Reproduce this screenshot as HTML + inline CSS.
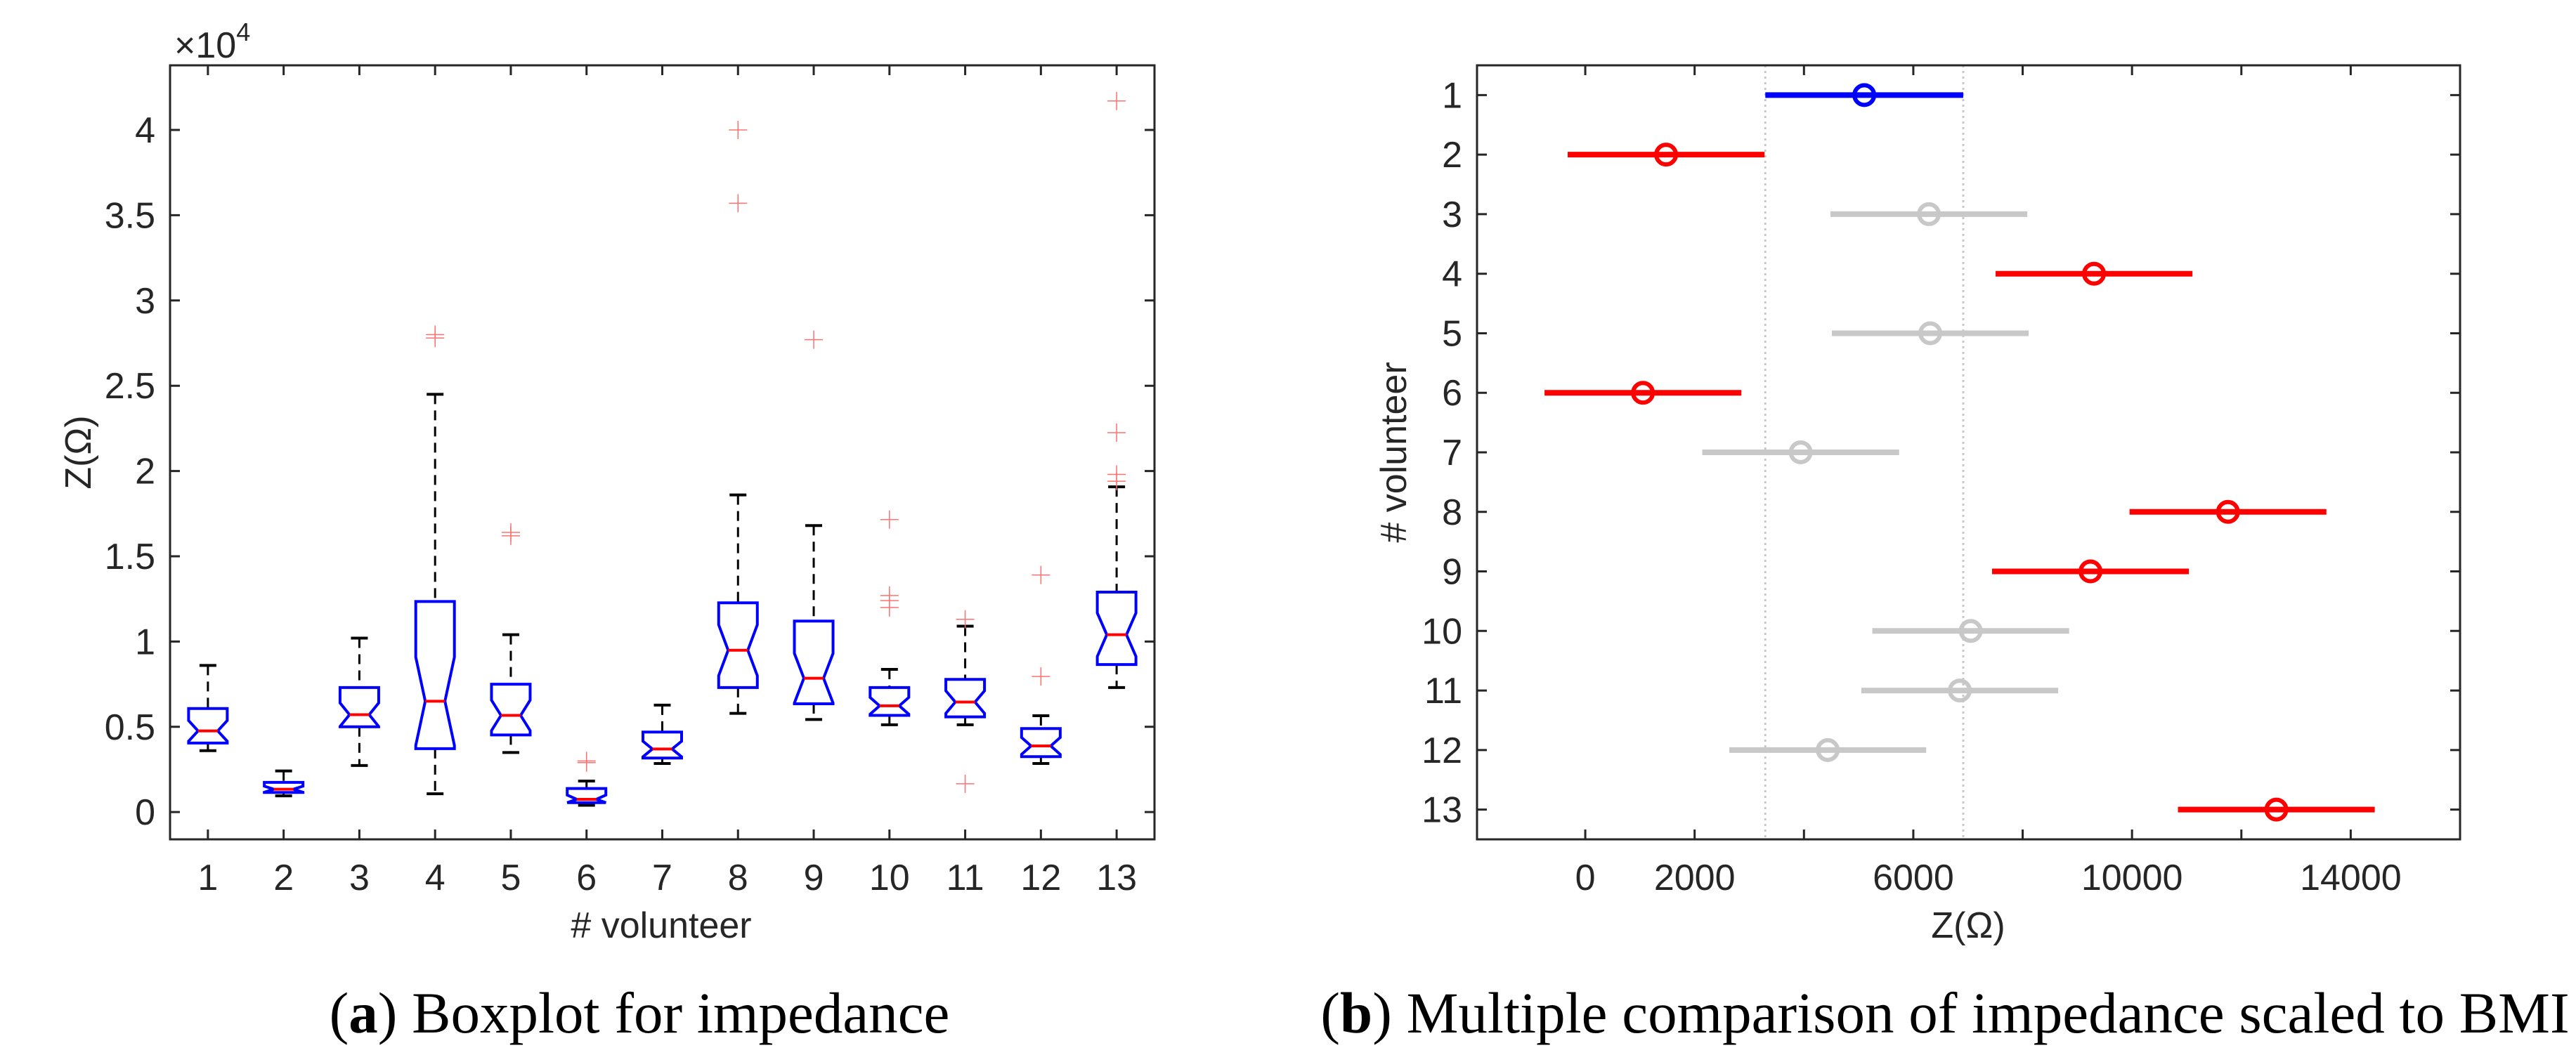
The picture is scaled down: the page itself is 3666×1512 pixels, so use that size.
<!DOCTYPE html>
<html><head><meta charset="utf-8"><style>
html,body{margin:0;padding:0;background:#fff;width:3666px;height:1512px;overflow:hidden}
svg text{font-family:"Liberation Sans",sans-serif;fill:#262626}
.cap{font-family:"Liberation Serif",serif;fill:#000}
</style></head><body>
<svg id="fig" width="3666" height="1512" viewBox="0 0 3666 1512">
<g id="left"></g>
<g id="right"></g>
<text class="cap" x="910" y="1470" font-size="83" text-anchor="middle">(<tspan font-weight="bold">a</tspan>) Boxplot for impedance</text>
<text class="cap" x="2768" y="1470" font-size="83" text-anchor="middle">(<tspan font-weight="bold">b</tspan>) Multiple comparison of impedance scaled to BMI</text>
</svg>
<script>
// ---- Boxplot data (units of 1e4 ohm) ----
const volunteers = [1,2,3,4,5,6,7,8,9,10,11,12,13];
const whiskerHigh = [0.86,0.241,1.02,2.45,1.04,0.182,0.627,1.86,1.68,0.837,1.09,0.565,1.907];
const q3Values   = [0.607,0.174,0.73,1.235,0.75,0.138,0.469,1.227,1.12,0.73,0.778,0.49,1.29];
const medians    = [0.476,0.134,0.571,0.65,0.567,0.075,0.37,0.949,0.785,0.623,0.645,0.388,1.04];
const q1Values   = [0.405,0.115,0.50,0.372,0.452,0.055,0.317,0.73,0.635,0.567,0.558,0.325,0.865];
const whiskerLow = [0.36,0.095,0.273,0.107,0.349,0.04,0.285,0.579,0.543,0.512,0.512,0.285,0.73];
const outliers = [[],[],[],[2.78,2.80],[1.62,1.64],[0.29,0.30],[],[3.57,4.0],[2.77],[1.20,1.24,1.27,1.715],[0.166,1.13],[0.795,1.39],[1.94,1.98,2.225,4.17]];
const leftYTicks = [0,0.5,1,1.5,2,2.5,3,3.5,4];
const leftYTickLabels = ["0","0.5","1","1.5","2","2.5","3","3.5","4"];

// ---- Multiple comparison data (ohm) ----
const groups = [1,2,3,4,5,6,7,8,9,10,11,12,13];
const groupMeans = [5103,1478,6285,9305,6310,1055,3940,11755,9240,7050,6850,4435,12640];
const halfWidths = [1810,1800,1800,1800,1800,1800,1800,1800,1800,1800,1800,1800,1800];
const groupStatus = ["sel","sig","ns","sig","ns","sig","ns","sig","sig","ns","ns","ns","sig"];
const rightXTicks = [0,2000,4000,6000,8000,10000,12000,14000];
const rightXTickLabels = ["0","2000","","6000","","10000","","14000"];

const NS="http://www.w3.org/2000/svg";
function mk(parent,tag,attrs,name,text){const e=document.createElementNS(NS,tag);for(const k in attrs)e.setAttribute(k,attrs[k]);


if(text!==undefined)e.textContent=text;parent.appendChild(e);return e;}

// Left axes
const L={x0:242,x1:1643,y0:93,y1:1195,xmin:0.5,xmax:13.5,ymin:-0.16,ymax:4.379};
const lx=v=>L.x0+(v-L.xmin)/(L.xmax-L.xmin)*(L.x1-L.x0);
const ly=v=>L.y1-(v-L.ymin)/(L.ymax-L.ymin)*(L.y1-L.y0);
const gl=document.getElementById('left');
volunteers.forEach((v,i)=>{
  const x=lx(v),bw=27.5,nw=14,cw=12;
  const g=mk(gl,'g',{},'box-volunteer-'+v);
  mk(g,'line',{x1:x,x2:x,y1:ly(whiskerHigh[i]),y2:ly(q3Values[i]),stroke:'#000','stroke-width':3,'stroke-dasharray':'14 9'},'upper-whisker');
  mk(g,'line',{x1:x,x2:x,y1:ly(q1Values[i]),y2:ly(whiskerLow[i]),stroke:'#000','stroke-width':3,'stroke-dasharray':'14 9'},'lower-whisker');
  mk(g,'line',{x1:x-cw,x2:x+cw,y1:ly(whiskerHigh[i]),y2:ly(whiskerHigh[i]),stroke:'#000','stroke-width':4},'upper-cap');
  mk(g,'line',{x1:x-cw,x2:x+cw,y1:ly(whiskerLow[i]),y2:ly(whiskerLow[i]),stroke:'#000','stroke-width':4},'lower-cap');
  const iqr=q3Values[i]-q1Values[i];
  const nh=Math.min(q3Values[i],medians[i]+0.3*iqr), nl=Math.max(q1Values[i],medians[i]-0.3*iqr);
  const pts=[[x-bw,q3Values[i]],[x+bw,q3Values[i]],[x+bw,nh],[x+nw,medians[i]],[x+bw,nl],[x+bw,q1Values[i]],[x-bw,q1Values[i]],[x-bw,nl],[x-nw,medians[i]],[x-bw,nh]];
  mk(g,'polygon',{points:pts.map(p=>p[0]+','+ly(p[1])).join(' '),fill:'none',stroke:'#0000ff','stroke-width':4},'notched-box');
  mk(g,'line',{x1:x-nw,x2:x+nw,y1:ly(medians[i]),y2:ly(medians[i]),stroke:'#ff0000','stroke-width':4},'median-line');
  outliers[i].forEach(o=>{const y=ly(o);
    mk(g,'path',{d:`M${x-13},${y}H${x+13}M${x},${y-13}V${y+13}`,stroke:'#ff7070','stroke-width':1.5,fill:'none'},'outlier');});
});
mk(gl,'rect',{x:L.x0,y:L.y0,width:L.x1-L.x0,height:L.y1-L.y0,fill:'none',stroke:'#262626','stroke-width':3},'left-axes-box');
volunteers.forEach(v=>{const x=lx(v);
  mk(gl,'path',{d:`M${x},${L.y1}v-14M${x},${L.y0}v14`,stroke:'#262626','stroke-width':3},'x-tick');
  mk(gl,'text',{x:x,y:1267,'font-size':52,'text-anchor':'middle'},'x-tick-label',String(v));});
leftYTicks.forEach((t,i)=>{const y=ly(t);
  mk(gl,'path',{d:`M${L.x0},${y}h14M${L.x1},${y}h-14`,stroke:'#262626','stroke-width':3},'y-tick');
  mk(gl,'text',{x:221,y:y+18,'font-size':52,'text-anchor':'end'},'y-tick-label',leftYTickLabels[i]);});
const ex=mk(gl,'text',{x:248,y:82,'font-size':52},'y-exponent-label','×10');
mk(ex,'tspan',{dy:-24,'font-size':36},'exponent','4');
mk(gl,'text',{x:941,y:1335,'font-size':52,'text-anchor':'middle'},'x-axis-title','# volunteer');
mk(gl,'text',{x:0,y:0,'font-size':52,'text-anchor':'middle',transform:'translate(129,644) rotate(-90)'},'y-axis-title','Z(Ω)');

// Right axes
const R={x0:2102,x1:3501,y0:93,y1:1195,xmin:-1980,xmax:16000,ymin:0.5,ymax:13.5};
const rx=v=>R.x0+(v-R.xmin)/(R.xmax-R.xmin)*(R.x1-R.x0);
const ry=v=>R.y0+(v-R.ymin)/(R.ymax-R.ymin)*(R.y1-R.y0);
const gr=document.getElementById('right');
const cols={sel:'#0000ff',sig:'#ff0000',ns:'#c8c8c8'};
const lo=groupMeans[0]-halfWidths[0], hi=groupMeans[0]+halfWidths[0];
[lo,hi].forEach(v=>mk(gr,'line',{x1:rx(v),x2:rx(v),y1:R.y0,y2:R.y1,stroke:'#c8c8c8','stroke-width':3,'stroke-dasharray':'3 5'},'reference-line'));
groups.forEach((gidx,i)=>{const y=ry(gidx),c=cols[groupStatus[i]];
  const g=mk(gr,'g',{},'interval-group-'+gidx);
  mk(g,'line',{x1:rx(groupMeans[i]-halfWidths[i]),x2:rx(groupMeans[i]+halfWidths[i]),y1:y,y2:y,stroke:c,'stroke-width':8},'interval-line');
  mk(g,'circle',{cx:rx(groupMeans[i]),cy:y,r:14,fill:'none',stroke:c,'stroke-width':6},'mean-marker');});
mk(gr,'rect',{x:R.x0,y:R.y0,width:R.x1-R.x0,height:R.y1-R.y0,fill:'none',stroke:'#262626','stroke-width':3},'right-axes-box');
rightXTicks.forEach((t,i)=>{const x=rx(t);
  mk(gr,'path',{d:`M${x},${R.y1}v-14M${x},${R.y0}v14`,stroke:'#262626','stroke-width':3},'x-tick');
  if(rightXTickLabels[i])mk(gr,'text',{x:x,y:1267,'font-size':52,'text-anchor':'middle'},'x-tick-label',rightXTickLabels[i]);});
groups.forEach(gidx=>{const y=ry(gidx);
  mk(gr,'path',{d:`M${R.x0},${y}h14M${R.x1},${y}h-14`,stroke:'#262626','stroke-width':3},'y-tick');
  mk(gr,'text',{x:2081,y:y+18,'font-size':52,'text-anchor':'end'},'y-tick-label',String(gidx));});
mk(gr,'text',{x:2801,y:1335,'font-size':52,'text-anchor':'middle'},'x-axis-title','Z(Ω)');
mk(gr,'text',{x:0,y:0,'font-size':52,'text-anchor':'middle',transform:'translate(2001,644) rotate(-90)'},'y-axis-title','# volunteer');
</script>
</body></html>
